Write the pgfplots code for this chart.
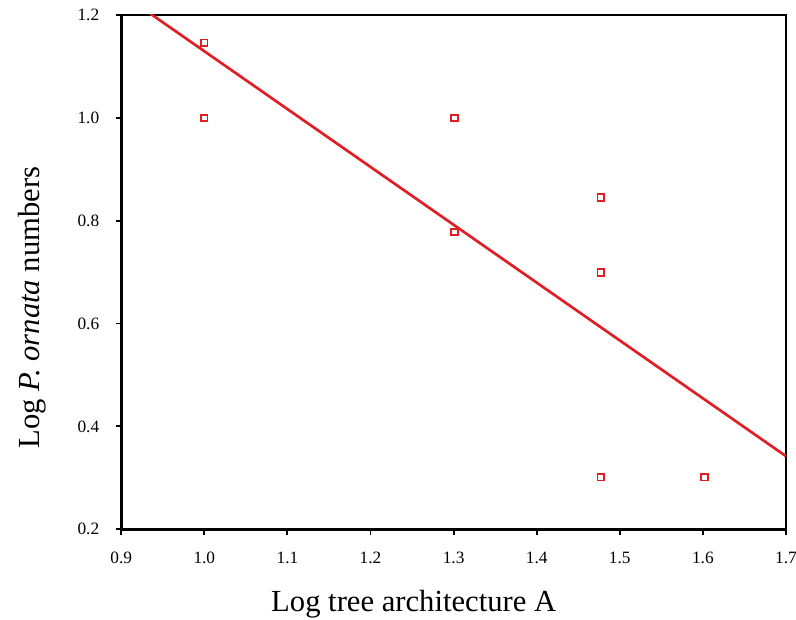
\documentclass[border=0pt]{standalone}
\usepackage{pgfplots}
\pgfplotsset{compat=1.18}
\usepackage{fontspec}
\setmainfont{Liberation Serif}
\definecolor{pred}{RGB}{225,30,35}
\begin{document}
\begin{tikzpicture}
\begin{axis}[
  scale only axis,
  width=499pt, height=386pt,
  xmin=0.9, xmax=1.7, ymin=0.2, ymax=1.2,
  xtick={0.9,1.0,...,1.7}, ytick={0.2,0.4,...,1.2},
  xtick pos=bottom, ytick pos=left,
  /pgf/number format/fixed,
  /pgf/number format/fixed zerofill,
  /pgf/number format/precision=1,
  /pgf/number format/assume math mode=true,
  tick label style={font=\fontsize{13}{15}\selectfont},
  tick align=outside, major tick length=4pt,
  axis line style={line width=2pt},
  every tick/.style={black, line width=1.4pt},
  xticklabel style={yshift=-9.5pt},
  yticklabel style={xshift=-9pt},
  xlabel={Log tree architecture A},
  ylabel={Log \textit{P. ornata} numbers},
  label style={font=\fontsize{23}{27}\selectfont},
  xlabel style={at={(axis description cs:0.44,0)}, anchor=base, yshift=-62pt},
  ylabel style={at={(axis description cs:0,0.431)}, anchor=base, yshift=61pt},
  clip=true,
]
\addplot[only marks, mark=square, mark size=2.4pt, draw=pred, line width=1.4pt] coordinates {
(1.000,1.146) (1.000,1.000) (1.301,1.000) (1.301,0.778)
(1.477,0.845) (1.477,0.699) (1.477,0.301) (1.602,0.301)};
\addplot[pred, line width=2pt] coordinates {(0.9,1.242) (1.7,0.342)};
\end{axis}
\pgfresetboundingbox
\path ([shift={(-91pt,-68pt)}]current axis.south west) rectangle ([shift={(7.5pt,11.25pt)}]current axis.north east);
\end{tikzpicture}
\end{document}
